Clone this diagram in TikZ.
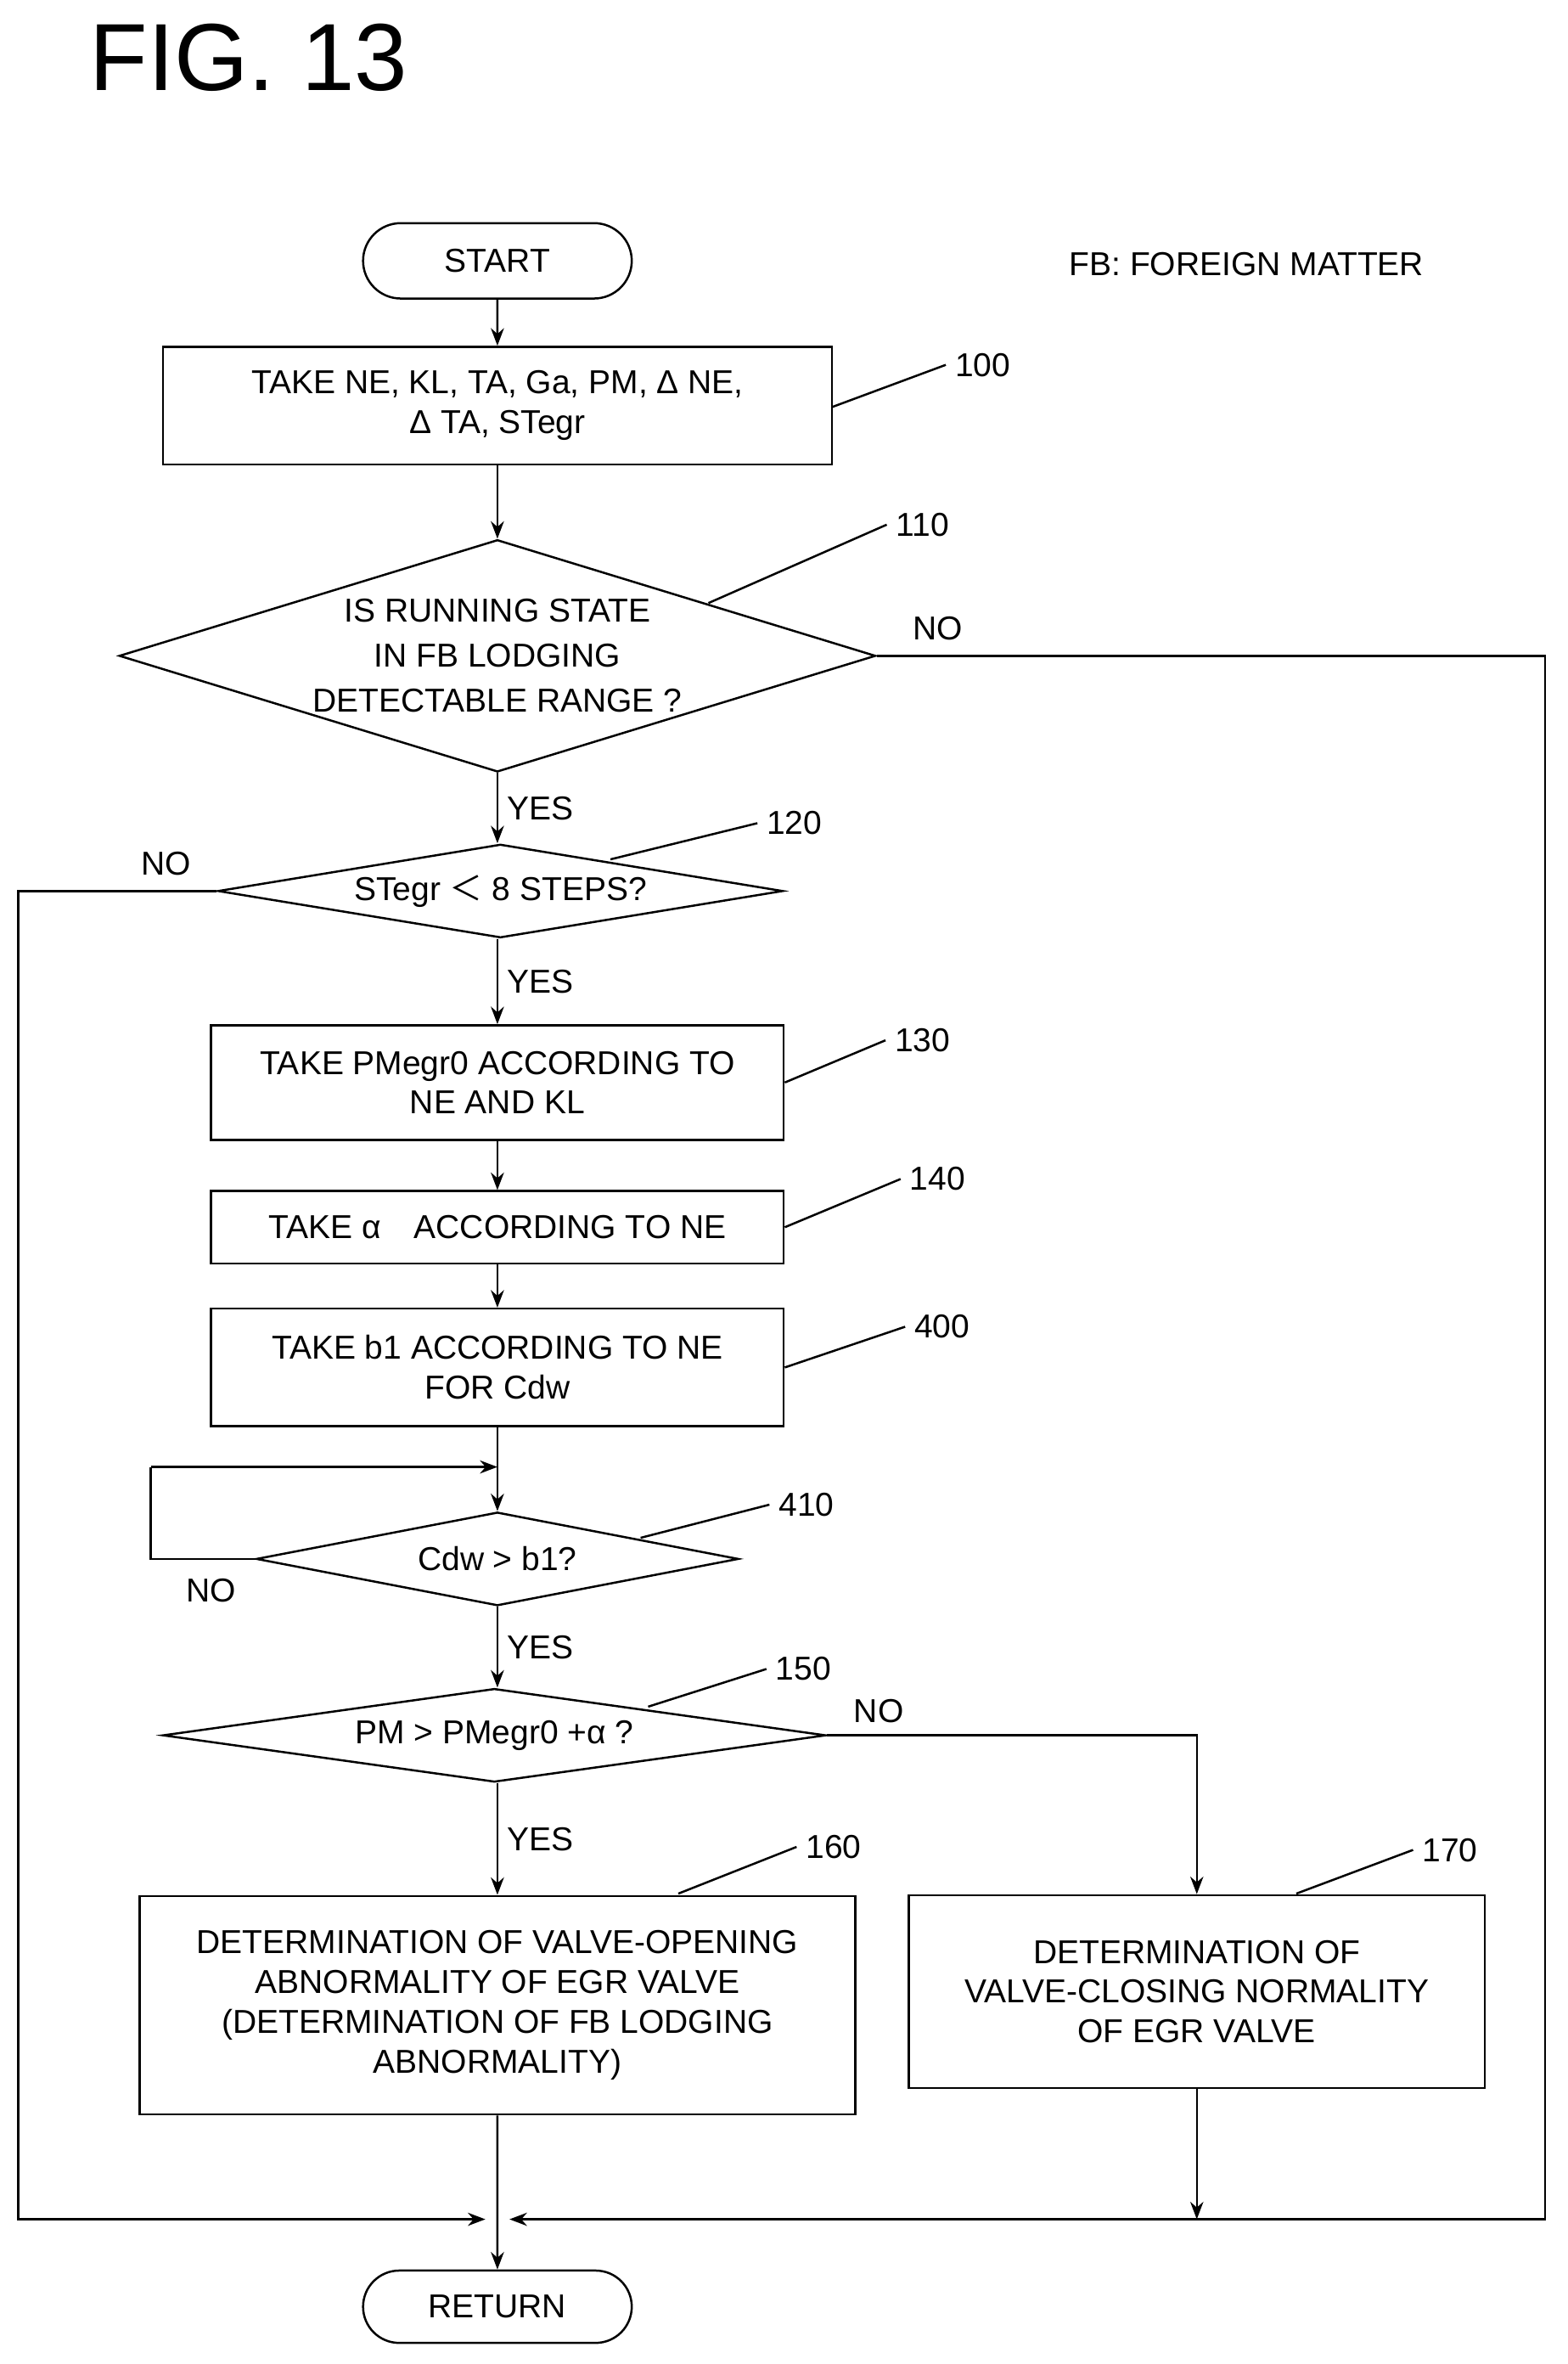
\documentclass[tikz,border=0pt]{standalone}
\usepackage{fontspec}
\setmainfont{Liberation Sans}
\newfontfamily\cjk{Noto Sans CJK SC}
\usetikzlibrary{shapes,shapes.geometric,arrows,calc,arrows.meta}
\begin{document}
\begin{tikzpicture}[
    x=0.02cm,y=-0.02cm,>=Stealth,
    font=\fontsize{12.5}{15}\selectfont,
    box/.style={rectangle,draw,thick,inner sep=0pt,align=center},
    term/.style={rounded rectangle,draw,thick,minimum width=3.8cm,minimum height=1.0cm},
    dec/.style={diamond,draw,thick,inner sep=0pt},
    lead/.style={thick},
    flow/.style={thick,->}]
    \useasboundingbox (0,0) rectangle (1040,1568);
    \node[font=\fontsize{36}{40}\selectfont] (title) at (165,38) {FIG. 13};
    \node (fb) at (827,175) {FB: FOREIGN MATTER};

    \node[term] (start) at (330,173) {START};
    \node[box,minimum width=8.88cm,minimum height=1.56cm] (s100) at (330,269) {TAKE NE, KL, TA, Ga, PM, Δ NE,\\Δ TA, STegr};
    \node[dec,minimum width=10.04cm,minimum height=3.08cm,align=center,
        label={[align=center]center:IS RUNNING STATE\\[2pt]IN FB LODGING\\[2pt]DETECTABLE RANGE ?}] (s110) at (330,435) {};
    \node[dec,minimum width=7.5cm,minimum height=1.24cm,label=center:{STegr {\cjk ＜} 8 STEPS?}] (s120) at (332,591) {};
    \node[box,minimum width=7.6cm,minimum height=1.52cm] (s130) at (330,718) {TAKE PMegr0 ACCORDING TO\\NE AND KL};
    \node[box,minimum width=7.6cm,minimum height=0.96cm] (s140) at (330,814) {TAKE α\quad ACCORDING TO NE};
    \node[box,minimum width=7.6cm,minimum height=1.56cm] (s400) at (330,907) {TAKE b1 ACCORDING TO NE\\FOR Cdw};
    \node[dec,minimum width=6.4cm,minimum height=1.24cm,label=center:{Cdw > b1?}] (s410) at (330,1034) {};
    \node[dec,minimum width=8.8cm,minimum height=1.24cm,label=center:{PM > PMegr0 +α ?}] (s150) at (328,1151) {};
    \node[box,minimum width=9.5cm,minimum height=2.9cm] (s160) at (330,1330) {DETERMINATION OF VALVE-OPENING\\ABNORMALITY OF EGR VALVE\\(DETERMINATION OF FB LODGING\\ABNORMALITY)};
    \node[box,minimum width=7.64cm,minimum height=2.56cm] (s170) at (794,1321) {DETERMINATION OF\\VALVE-CLOSING NORMALITY\\OF EGR VALVE};
    \node[term,minimum height=0.96cm] (ret) at (330,1530) {RETURN};

    % step numbers
    \node (n100) at (652,242) {100};
    \node (n110) at (612,348) {110};
    \node (n120) at (527,546) {120};
    \node (n130) at (612,690) {130};
    \node (n140) at (622,782) {140};
    \node (n400) at (625,880) {400};
    \node (n410) at (535,998) {410};
    \node (n150) at (533,1107) {150};
    \node (n160) at (553,1225) {160};
    \node (n170) at (962,1227) {170};
    \draw[lead] (552,270) -- (n100.west);
    \draw[lead] (470,400) -- (n110.west);
    \draw[lead] (405,570) -- (n120.west);
    \draw[lead] (s130.east) -- (n130.west);
    \draw[lead] (s140.east) -- (n140.west);
    \draw[lead] (s400.east) -- (n400.west);
    \draw[lead] (425,1020) -- (n410.west);
    \draw[lead] (430,1132) -- (n150.west);
    \draw[lead] (450,1256) -- (n160.west);
    \draw[lead] (860,1256) -- (n170.west);

    % flow
    \coordinate (mrg) at (330,1472);
    \draw[flow] (start) -- (s100);
    \draw[flow] (s100) -- (s110);
    \draw[flow] (s110.south) -- node[right,pos=0.5]{YES} (s120.north -| s110.south);
    \draw[flow] (s120.south -| s110.south) -- node[right]{YES} (s130);
    \draw[flow] (s130) -- (s140);
    \draw[flow] (s140) -- (s400);
    \draw[flow] (s400) -- (s410);
    \draw[flow] (s410.south) -- node[right]{YES} (s150.north -| s410.south);
    \draw[flow] (s150.south -| s410.south) -- node[right]{YES} (s160);
    \draw[flow] (s160) -- (ret);
    \draw[thick] (s410.west) -- (100,1034) -- (100,973);
    \draw[flow] (100,973) -- (330,973);
    \node at (140,1055) {NO};
    \draw[flow] (s110.east) -- (1025,435) -- (1025,1472) -- ($(mrg)+(8,0)$);
    \node at (622,417) {NO};
    \draw[flow] (s120.west) -- (12,591) -- (12,1472) -- ($(mrg)+(-8,0)$);
    \node at (110,573) {NO};
    \draw[flow] (s150.east) -- (794,1151) -- (s170.north);
    \node at (583,1135) {NO};
    \draw[flow] (s170.south) -- (794,1472);
\end{tikzpicture}
\end{document}
